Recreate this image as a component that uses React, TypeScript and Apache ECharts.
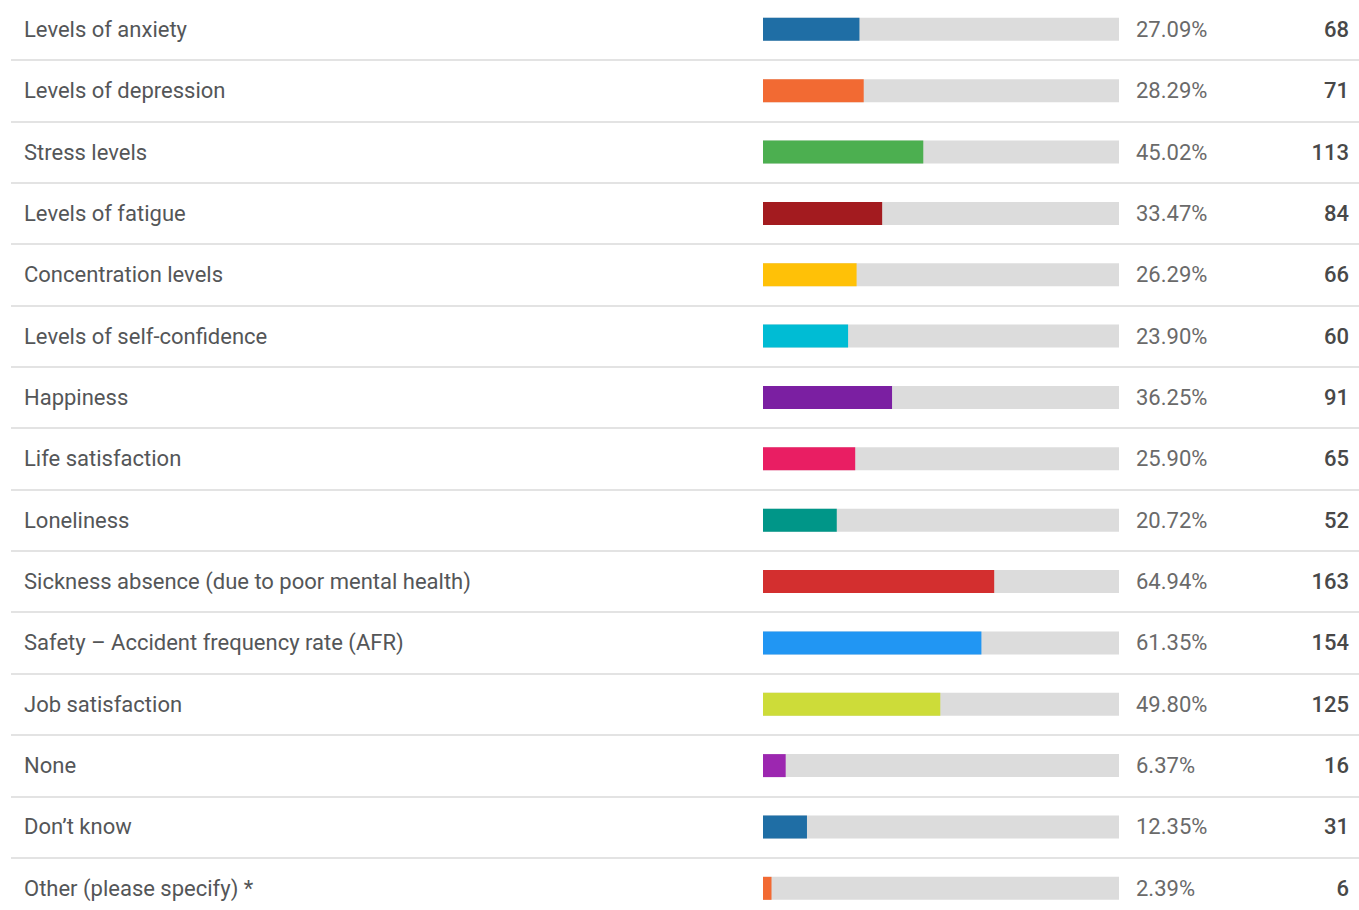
import React, { useEffect, useRef } from "react";
import * as echarts from "echarts";

const categories = [
  "Levels of anxiety",
  "Levels of depression",
  "Stress levels",
  "Levels of fatigue",
  "Concentration levels",
  "Levels of self-confidence",
  "Happiness",
  "Life satisfaction",
  "Loneliness",
  "Sickness absence (due to poor mental health)",
  "Safety – Accident frequency rate (AFR)",
  "Job satisfaction",
  "None",
  "Don’t know",
  "Other (please specify) *",
];

const percents = [27.09, 28.29, 45.02, 33.47, 26.29, 23.9, 36.25, 25.9, 20.72, 64.94, 61.35, 49.8, 6.37, 12.35, 2.39];
const counts = [68, 71, 113, 84, 66, 60, 91, 65, 52, 163, 154, 125, 16, 31, 6];

const barColors = [
  "#1f6ea5", "#f26a33", "#4caf50", "#a31b1f", "#ffc107",
  "#00bcd4", "#7b1fa2", "#e91e63", "#009688", "#d32f2f",
  "#2196f3", "#cddc39", "#9c27b0", "#1f6ea5", "#f26a33",
];

const W = 1359;
const SHIFT = 40;
const H = 910 + 2 * SHIFT;
const ROWS = categories.length;
const BAND = 61.36;
const TOP = 29.3 - BAND / 2 + SHIFT;
const GRID_H = BAND * ROWS;

export default function App() {
  const ref = useRef<HTMLDivElement>(null);
  useEffect(() => {
    if (!ref.current) return;
    const chart = echarts.init(ref.current, undefined, { renderer: "svg" });
    const font = "Roboto";
    chart.setOption({
      animation: false,
      textStyle: { fontFamily: font },
      grid: [
        { left: 763, width: 356, top: TOP, height: GRID_H },
        { left: 11, right: 0, top: TOP, height: GRID_H },
      ],
      xAxis: [
        { gridIndex: 0, type: "value", min: 0, max: 100, show: false },
        { gridIndex: 1, type: "value", min: 0, max: 100, show: false },
      ],
      yAxis: [
        {
          gridIndex: 0,
          type: "category",
          data: categories,
          inverse: true,
          position: "left",
          axisLine: { show: false },
          axisTick: { show: false },
          splitLine: { show: false },
          axisLabel: {
            align: "left",
            margin: 763 - 24,
            color: "#545658",
            fontSize: 22,
            fontFamily: font,
          },
        },
        {
          gridIndex: 0,
          type: "category",
          data: percents.map((p) => p.toFixed(2) + "%"),
          inverse: true,
          position: "right",
          axisLine: { show: false },
          axisTick: { show: false },
          splitLine: { show: false },
          axisLabel: {
            align: "left",
            margin: 1136 - 1119,
            color: "#6a6a6a",
            fontSize: 22,
            fontFamily: font,
          },
        },
        {
          gridIndex: 0,
          type: "category",
          data: counts.map((c) => String(c)),
          inverse: true,
          position: "right",
          axisLine: { show: false },
          axisTick: { show: false },
          splitLine: { show: false },
          axisLabel: {
            align: "right",
            margin: 1349 - 1119,
            color: "#484848",
            fontSize: 22,
            fontWeight: 500,
            fontFamily: font,
          },
        },
        {
          gridIndex: 1,
          type: "category",
          data: categories,
          inverse: true,
          axisLine: { show: false },
          axisTick: { show: false },
          axisLabel: { show: false },
          splitLine: { show: true, lineStyle: { color: "#e3e3e3", width: 2 } },
        },
      ],
      series: [
        {
          type: "bar",
          xAxisIndex: 0,
          yAxisIndex: 0,
          barWidth: 23,
          showBackground: true,
          backgroundStyle: { color: "#dcdcdc" },
          data: percents.map((p, i) => ({ value: p, itemStyle: { color: barColors[i] } })),
        },
      ],
    });
    return () => chart.dispose();
  }, []);
  return (
    <div style={{ position: "fixed", left: 0, top: 0, width: W, height: 910, overflow: "hidden", background: "#fff" }}>
      <div
        ref={ref}
        style={{ position: "absolute", left: 0, top: -SHIFT, width: W, height: H }}
      />
    </div>
  );
}
